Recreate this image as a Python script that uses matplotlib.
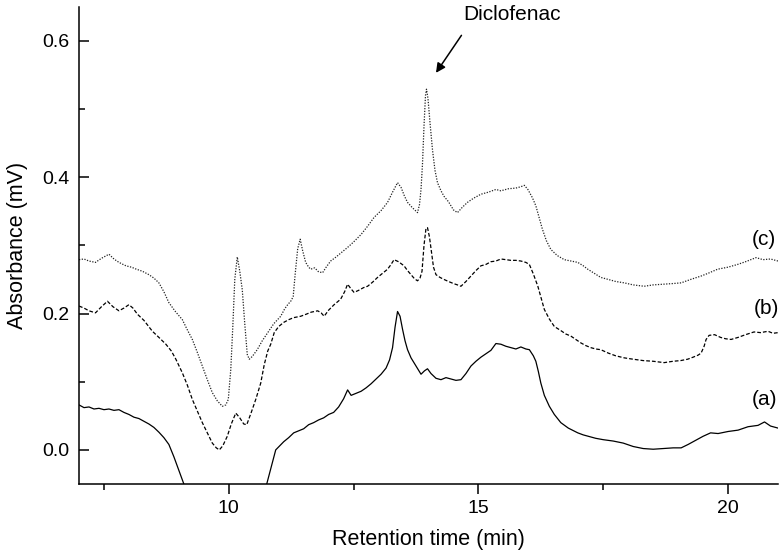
import matplotlib
matplotlib.use("Agg")
import matplotlib.pyplot as plt
from matplotlib.ticker import MultipleLocator

# ---- data ----
time_a = [7.0, 7.1, 7.2, 7.3, 7.4, 7.5, 7.6, 7.7, 7.8, 7.9, 8.0, 8.1, 8.2, 8.3, 8.4, 8.5, 8.6, 8.7,
          8.8, 8.9, 9.0, 9.1, 9.3, 9.6, 10.0, 10.4, 10.6, 10.76, 10.85, 10.94, 11.02, 11.1, 11.2,
          11.3, 11.4, 11.5, 11.6, 11.7, 11.8, 11.9, 12.0, 12.1, 12.2, 12.3, 12.38, 12.45, 12.55,
          12.65, 12.75, 12.85, 12.95, 13.05, 13.15, 13.22, 13.28, 13.33, 13.38, 13.43, 13.48,
          13.53, 13.58, 13.65, 13.75, 13.85, 13.92, 13.98, 14.05, 14.15, 14.25, 14.35, 14.45,
          14.55, 14.65, 14.75, 14.85, 14.95, 15.05, 15.15, 15.25, 15.35, 15.45, 15.55, 15.65,
          15.75, 15.85, 15.95, 16.02, 16.1, 16.15, 16.2, 16.25, 16.32, 16.42, 16.52, 16.65, 16.8,
          16.99, 17.1, 17.2, 17.35, 17.5, 17.7, 17.9, 18.1, 18.3, 18.5, 18.7, 18.9, 19.06, 19.2,
          19.35, 19.5, 19.65, 19.8, 20.0, 20.2, 20.4, 20.6, 20.73, 20.85, 21.0]
abs_a = [0.066, 0.062, 0.063, 0.060, 0.061, 0.059, 0.060, 0.058, 0.059, 0.055, 0.052, 0.048, 0.046,
         0.042, 0.038, 0.033, 0.026, 0.018, 0.008, -0.010, -0.030, -0.050, -0.090, -0.130, -0.150,
         -0.120, -0.085, -0.050, -0.025, 0.000, 0.006, 0.012, 0.018, 0.025, 0.028, 0.031, 0.037,
         0.040, 0.044, 0.047, 0.052, 0.055, 0.063, 0.075, 0.088, 0.080, 0.083, 0.086, 0.091, 0.097,
         0.104, 0.111, 0.120, 0.132, 0.150, 0.180, 0.203, 0.196, 0.177, 0.160, 0.147, 0.135, 0.123,
         0.111, 0.116, 0.119, 0.112, 0.105, 0.103, 0.106, 0.104, 0.102, 0.103, 0.112, 0.123, 0.130,
         0.136, 0.141, 0.146, 0.156, 0.155, 0.152, 0.150, 0.148, 0.151, 0.148, 0.147, 0.138, 0.130,
         0.115, 0.098, 0.080, 0.064, 0.052, 0.040, 0.032, 0.025, 0.022, 0.020, 0.017, 0.015, 0.013,
         0.010, 0.005, 0.002, 0.001, 0.002, 0.003, 0.003, 0.008, 0.014, 0.020, 0.025, 0.024, 0.027,
         0.029, 0.034, 0.036, 0.041, 0.035, 0.032]

time_b = [7.0, 7.1, 7.2, 7.33, 7.45, 7.57, 7.68, 7.8, 7.9, 8.0, 8.08, 8.17, 8.3, 8.47, 8.6, 8.74,
          8.85, 8.94, 9.07, 9.17, 9.27, 9.37, 9.47, 9.57, 9.67, 9.75, 9.81, 9.88, 9.97, 10.05,
          10.14, 10.22, 10.3, 10.36, 10.45, 10.54, 10.64, 10.71, 10.78, 10.84, 10.91, 11.0, 11.1,
          11.2, 11.3, 11.44, 11.55, 11.65, 11.78, 11.85, 11.91, 12.0, 12.11, 12.24, 12.32, 12.38,
          12.45, 12.51, 12.6, 12.7, 12.78, 12.88, 12.98, 13.08, 13.18, 13.25, 13.31, 13.4, 13.51,
          13.58, 13.65, 13.72, 13.78, 13.83, 13.87, 13.91, 13.95, 13.98, 14.02, 14.06, 14.1, 14.15,
          14.23, 14.31, 14.4, 14.5, 14.58, 14.65, 14.75, 14.85, 14.95, 15.05, 15.15, 15.25, 15.35,
          15.45, 15.55, 15.65, 15.75, 15.85, 15.95, 16.02, 16.1, 16.19, 16.26, 16.32, 16.42, 16.52,
          16.65, 16.75, 16.85, 16.95, 17.05, 17.15, 17.25, 17.35, 17.45, 17.6, 17.75, 17.92, 18.1,
          18.3, 18.5, 18.72, 18.9, 19.05, 19.19, 19.3, 19.4, 19.46, 19.52, 19.56, 19.62, 19.73,
          19.85, 19.95, 20.06, 20.2, 20.35, 20.52, 20.65, 20.8, 20.9, 21.0]
abs_b = [0.211, 0.208, 0.204, 0.201, 0.210, 0.218, 0.210, 0.204, 0.208, 0.213, 0.208, 0.199, 0.190,
         0.174, 0.165, 0.155, 0.145, 0.133, 0.113, 0.095, 0.074, 0.057, 0.040, 0.025, 0.010, 0.003,
         0.000, 0.006, 0.020, 0.038, 0.054, 0.047, 0.038, 0.037, 0.055, 0.074, 0.098, 0.125, 0.145,
         0.155, 0.172, 0.181, 0.187, 0.191, 0.194, 0.196, 0.199, 0.202, 0.204, 0.201, 0.196, 0.205,
         0.213, 0.221, 0.232, 0.243, 0.236, 0.231, 0.234, 0.238, 0.240, 0.246, 0.253, 0.259, 0.265,
         0.272, 0.279, 0.276, 0.270, 0.263, 0.257, 0.251, 0.248, 0.252, 0.262, 0.300, 0.325, 0.326,
         0.312, 0.290, 0.268, 0.257, 0.253, 0.250, 0.247, 0.244, 0.242, 0.240, 0.247, 0.255, 0.263,
         0.270, 0.272, 0.276, 0.277, 0.280, 0.279, 0.278, 0.278, 0.277, 0.275, 0.272, 0.258, 0.240,
         0.222, 0.206, 0.192, 0.181, 0.175, 0.170, 0.167, 0.162, 0.157, 0.153, 0.150, 0.148, 0.147,
         0.142, 0.138, 0.135, 0.133, 0.131, 0.130, 0.128, 0.130, 0.131, 0.133, 0.136, 0.139, 0.142,
         0.152, 0.162, 0.168, 0.169, 0.165, 0.163, 0.162, 0.165, 0.169, 0.173, 0.172, 0.174, 0.171,
         0.172]

time_c = [7.0, 7.1, 7.2, 7.33, 7.45, 7.6, 7.7, 7.8, 7.94, 8.05, 8.15, 8.27, 8.4, 8.5, 8.6, 8.7,
          8.8, 8.93, 9.07, 9.17, 9.27, 9.37, 9.47, 9.57, 9.67, 9.77, 9.87, 9.94, 9.99, 10.04, 10.08,
          10.12, 10.17, 10.22, 10.27, 10.32, 10.37, 10.41, 10.47, 10.57, 10.67, 10.78, 10.9, 11.04,
          11.12, 11.18, 11.25, 11.29, 11.33, 11.38, 11.43, 11.48, 11.54, 11.6, 11.64, 11.72, 11.8,
          11.88, 11.95, 12.04, 12.15, 12.25, 12.38, 12.5, 12.65, 12.78, 12.91, 13.05, 13.18, 13.28,
          13.38, 13.45, 13.52, 13.58, 13.68, 13.78, 13.82, 13.85, 13.88, 13.91, 13.94, 13.96, 13.99,
          14.03, 14.08, 14.13, 14.18, 14.25, 14.31, 14.4, 14.5, 14.58, 14.68, 14.78, 14.9, 15.05,
          15.2, 15.35, 15.45, 15.6, 15.75, 15.85, 15.92, 15.99, 16.08, 16.15, 16.22, 16.28, 16.36,
          16.45, 16.58, 16.72, 16.85, 16.99, 17.1, 17.19, 17.3, 17.45, 17.6, 17.75, 17.92, 18.1,
          18.32, 18.5, 18.7, 18.9, 19.06, 19.25, 19.46, 19.6, 19.79, 20.0, 20.19, 20.35, 20.56,
          20.7, 20.85, 21.0]
abs_c = [0.279, 0.280, 0.277, 0.275, 0.281, 0.287, 0.280, 0.275, 0.270, 0.268, 0.265, 0.262, 0.257,
         0.252, 0.245, 0.232, 0.216, 0.203, 0.191, 0.176, 0.162, 0.143, 0.123, 0.103, 0.084, 0.072,
         0.064, 0.066, 0.074, 0.118, 0.180, 0.250, 0.283, 0.262, 0.235, 0.185, 0.140, 0.133, 0.137,
         0.147, 0.160, 0.172, 0.185, 0.196, 0.207, 0.213, 0.219, 0.225, 0.258, 0.295, 0.309, 0.292,
         0.275, 0.268, 0.265, 0.267, 0.261, 0.260, 0.268, 0.277, 0.283, 0.289, 0.297, 0.305, 0.316,
         0.328, 0.341, 0.351, 0.363, 0.378, 0.392, 0.385, 0.372, 0.363, 0.355, 0.348, 0.360, 0.382,
         0.420, 0.475, 0.520, 0.529, 0.515, 0.480, 0.440, 0.410, 0.392, 0.380, 0.372, 0.364, 0.352,
         0.348, 0.356, 0.363, 0.369, 0.375, 0.378, 0.382, 0.380, 0.383, 0.384, 0.386, 0.388, 0.382,
         0.370, 0.358, 0.340, 0.324, 0.307, 0.294, 0.285, 0.279, 0.277, 0.275, 0.270, 0.265, 0.260,
         0.253, 0.250, 0.247, 0.245, 0.242, 0.240, 0.242, 0.243, 0.244, 0.245, 0.250, 0.255, 0.259,
         0.265, 0.268, 0.272, 0.276, 0.282, 0.279, 0.280, 0.277]

trace_labels = ["(a)", "(b)", "(c)"]
x_ticks = [10, 15, 20]
y_ticks = [0.0, 0.2, 0.4, 0.6]

# ---- figure ----
plt.rcParams['font.family'] = ['Liberation Sans', 'DejaVu Sans']
fig = plt.figure(figsize=(7.82, 5.6), dpi=100)
ax = fig.add_axes([79 / 782, 1 - 484 / 560, (778 - 79) / 782, (484 - 6.7) / 560])

ax.plot(time_a, abs_a, color='black', lw=0.9, linestyle='-')
ax.plot(time_b, abs_b, color='black', lw=0.9, linestyle=(0, (3, 1.6)))
ax.plot(time_c, abs_c, color='#222222', lw=0.9, linestyle=(0, (1, 1.2)))

ax.set_xlim(7, 21)
ax.set_ylim(-0.05, 0.65)
ax.set_xticks(x_ticks)
ax.set_yticks(y_ticks)
ax.set_yticklabels([f"{v:.1f}" for v in y_ticks])
ax.xaxis.set_minor_locator(MultipleLocator(2.5))
ax.yaxis.set_minor_locator(MultipleLocator(0.1))

for s in ['top', 'right']:
    ax.spines[s].set_visible(False)
for s in ['left', 'bottom']:
    ax.spines[s].set_linewidth(1.1)

ax.tick_params(axis='x', which='major', direction='out', length=7.5, width=1.1, labelsize=14, pad=4)
ax.tick_params(axis='x', which='minor', direction='out', length=4.3, width=1.1)
ax.tick_params(axis='y', which='major', direction='in', length=7.5, width=1.1, labelsize=14, pad=7)
ax.tick_params(axis='y', which='minor', direction='in', length=4.3, width=1.1)

ax.set_xlabel("Retention time (min)", fontsize=15.5, labelpad=9)
ax.set_ylabel("Absorbance (mV)", fontsize=15.5, labelpad=10)

label_pos = [(20.73, 0.074), (20.76, 0.207), (20.72, 0.309)]
for t, (lx, ly) in zip(trace_labels, label_pos):
    ax.text(lx, ly, t, fontsize=15, ha='center', va='center')

ax.text(15.68, 0.639, "Diclofenac", fontsize=15, ha='center', va='center', clip_on=False)
ax.annotate("", xy=(14.15, 0.553), xytext=(14.66, 0.608),
            arrowprops=dict(arrowstyle='-|>', color='black', lw=1.1,
                            shrinkA=0, shrinkB=0, mutation_scale=14))

fig.savefig("out.png", dpi=100)
